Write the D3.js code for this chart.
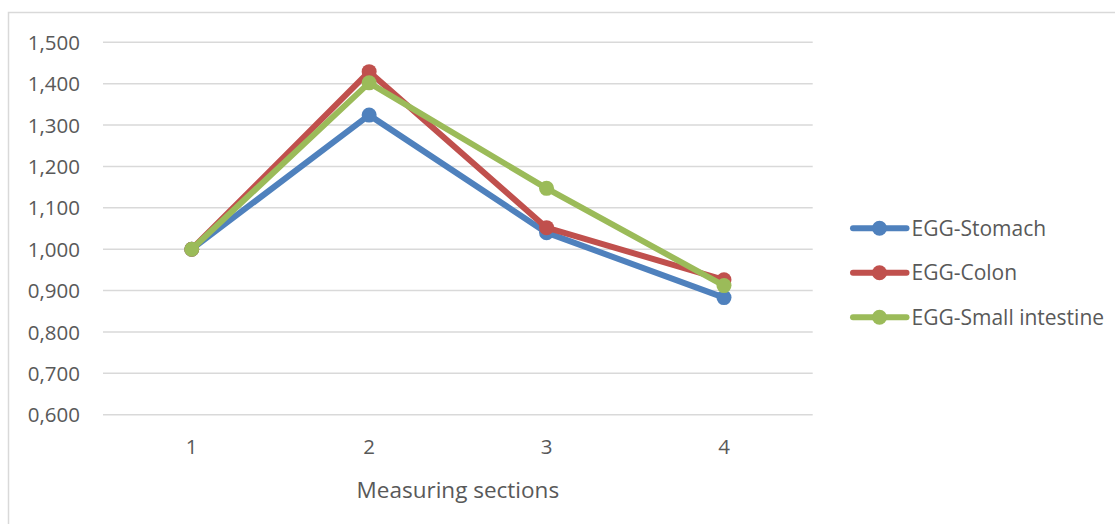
<!DOCTYPE html>
<html>
<head>
<meta charset="utf-8">
<script src="https://cdn.jsdelivr.net/npm/d3@7"></script>
<style>
  html, body { margin: 0; padding: 0; background: #fff; }
  svg { display: block; }
  text { font-family: "Open Sans", "Noto Sans", sans-serif; fill: #595959; }
</style>
</head>
<body>
<svg id="chart" width="1115" height="524"></svg>
<script>
// Measuring sections on the x axis
const sections = ["1", "2", "3", "4"];

// EGG values per organ
const stomach = [1.000, 1.324, 1.040, 0.883];
const colon = [1.000, 1.429, 1.052, 0.926];
const smallIntestine = [1.000, 1.402, 1.147, 0.912];

const seriesNames = ["EGG-Stomach", "EGG-Colon", "EGG-Small intestine"];
const seriesColors = ["#4f81bd", "#c0504d", "#9bbb59"];

const yTicks = [0.6, 0.7, 0.8, 0.9, 1.0, 1.1, 1.2, 1.3, 1.4, 1.5];
const xTitle = "Measuring sections";

const series = [stomach, colon, smallIntestine].map((values, i) => ({
  name: seriesNames[i],
  color: seriesColors[i],
  values
}));

const svg = d3.select("#chart");

// outer chart frame
svg.append("rect")
  .attr("x", 8.5).attr("y", 12.5)
  .attr("width", 1120).attr("height", 520)
  .attr("fill", "none")
  .attr("stroke", "#d9d9d9")
  .attr("stroke-width", 1.5);

const plot = { left: 103, right: 812.7, top: 42.3, bottom: 414.7 };

const x = d3.scaleBand()
  .domain(sections)
  .range([plot.left, plot.right]);

const y = d3.scaleLinear()
  .domain([0.6, 1.5])
  .range([plot.bottom, plot.top]);

const fmt = v => d3.format(",.3f")(v).replace(".", ",");

// horizontal gridlines
svg.append("g")
  .selectAll("line")
  .data(yTicks)
  .join("line")
  .attr("x1", plot.left).attr("x2", plot.right)
  .attr("y1", d => y(d)).attr("y2", d => y(d))
  .attr("stroke", "#d9d9d9")
  .attr("stroke-width", 1.5);

// y axis labels
const yAxis = d3.axisLeft(y).tickValues(yTicks).tickFormat(fmt).tickSize(0).tickPadding(0);
const yg = svg.append("g").attr("transform", `translate(80,0)`).call(yAxis);
yg.select(".domain").remove();
yg.selectAll("text")
  .attr("font-size", 20.5)
  .attr("font-family", null)
  .attr("fill", "#595959")
  .attr("dy", "0.35em");

// x axis labels
const xAxis = d3.axisBottom(x).tickSize(0).tickPadding(0);
const xg = svg.append("g").attr("transform", `translate(0,${plot.bottom})`).call(xAxis);
xg.select(".domain").remove();
xg.selectAll("text")
  .attr("font-size", 20.5)
  .attr("font-family", null)
  .attr("fill", "#595959")
  .attr("y", 32)
  .attr("dy", "0.35em");

// x axis title
svg.append("text")
  .attr("x", (plot.left + plot.right) / 2)
  .attr("y", 490)
  .attr("dy", "0.35em")
  .attr("text-anchor", "middle")
  .attr("font-size", 22.5)
  .text(xTitle);

// series lines and markers
const line = d3.line()
  .x((d, i) => x(sections[i]) + x.bandwidth() / 2)
  .y(d => y(d));

series.forEach(s => {
  const g = svg.append("g");
  g.append("path")
    .attr("d", line(s.values))
    .attr("fill", "none")
    .attr("stroke", s.color)
    .attr("stroke-width", 6)
    .attr("stroke-linejoin", "round")
    .attr("stroke-linecap", "round");
  g.selectAll("circle")
    .data(s.values)
    .join("circle")
    .attr("cx", (d, i) => x(sections[i]) + x.bandwidth() / 2)
    .attr("cy", d => y(d))
    .attr("r", 7.5)
    .attr("fill", s.color);
});

// legend
const legendY = [228.3, 272.7, 317.3];
const legend = svg.append("g");
series.forEach((s, i) => {
  const row = legend.append("g").attr("transform", `translate(0,${legendY[i]})`);
  row.append("line")
    .attr("x1", 853).attr("x2", 906.5)
    .attr("y1", 0).attr("y2", 0)
    .attr("stroke", s.color)
    .attr("stroke-width", 6)
    .attr("stroke-linecap", "round");
  row.append("circle")
    .attr("cx", 879.5).attr("cy", 0)
    .attr("r", 7.5)
    .attr("fill", s.color);
  row.append("text")
    .attr("x", 911.5)
    .attr("dy", "0.35em")
    .attr("font-size", 21)
    .text(s.name);
});
</script>
</body>
</html>
